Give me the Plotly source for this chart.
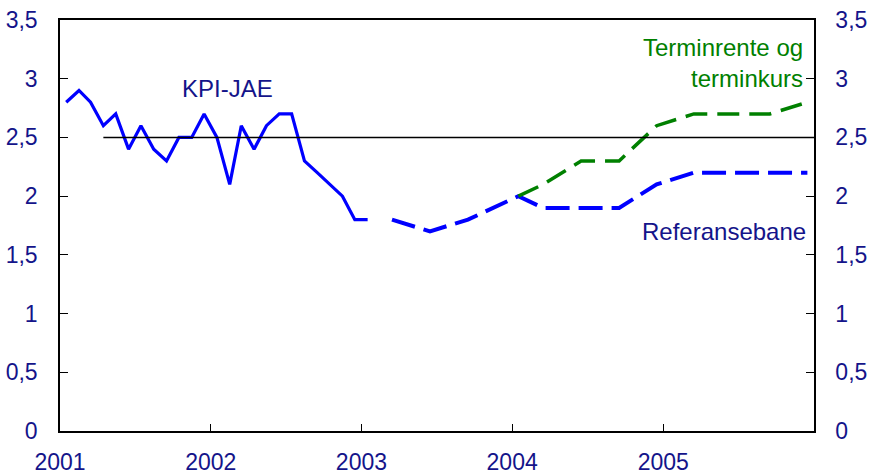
import plotly.graph_objects as go
import pandas as pd

# ---- data ----
kpi_months = [p.strftime("%Y-%m") for p in pd.period_range("2001-01", "2003-01", freq="M")]
kpi_values = [2.8, 2.9, 2.8, 2.6, 2.7, 2.4, 2.6, 2.4, 2.3, 2.5, 2.5, 2.7,
              2.5, 2.1, 2.6, 2.4, 2.6, 2.7, 2.7, 2.3, 2.2, 2.1, 2.0, 1.8,
              1.8]

ref_months = ["2003-03", "2003-06", "2003-09", "2004-01", "2004-03",
              "2004-09", "2004-12", "2005-03", "2005-12"]
ref_values = [1.8, 1.7, 1.8, 2.0, 1.9, 1.9, 2.1, 2.2, 2.2]

term_months = ["2004-01", "2004-03", "2004-06", "2004-09", "2004-12",
               "2005-03", "2005-09", "2005-12"]
term_values = [2.0, 2.1, 2.3, 2.3, 2.6, 2.7, 2.7, 2.8]

target_dates = ["2001-04-16", "2006-01-01"]
target_values = [2.5, 2.5]

year_ticks = ["2001", "2002", "2003", "2004", "2005"]
y_ticks = [0, 0.5, 1, 1.5, 2, 2.5, 3, 3.5]


def mid(months):
    return [m + "-16" for m in months]


NAVY = "#14148a"
BLUE = "#0000ff"
GREEN = "#008000"
FONT = "Liberation Sans, Arial, sans-serif"

fig = go.Figure()
fig.add_trace(go.Scatter(x=target_dates, y=target_values, mode="lines",
                         line=dict(color="#000000", width=1.6), yaxis="y2",
                         hoverinfo="skip", showlegend=False))
fig.add_trace(go.Scatter(x=mid(ref_months), y=ref_values, mode="lines",
                         line=dict(color=BLUE, width=4, dash="24px,9px"),
                         showlegend=False))
fig.add_trace(go.Scatter(x=mid(term_months), y=term_values, mode="lines",
                         line=dict(color=GREEN, width=3.5, dash="22px,10px"),
                         showlegend=False))
fig.add_trace(go.Scatter(x=mid(kpi_months), y=kpi_values, mode="lines",
                         line=dict(color=BLUE, width=3.2),
                         showlegend=False))

axis_font = dict(family=FONT, size=23, color=NAVY)

fig.update_layout(
    width=869, height=476,
    margin=dict(l=60, r=55, t=20, b=45),
    paper_bgcolor="white", plot_bgcolor="white",
    separators=", ",
    font=dict(family=FONT),
    xaxis=dict(type="date", range=["2001-01-01", "2006-01-01"],
               tickvals=[y + "-01-01" for y in year_ticks], ticktext=year_ticks,
               ticks="inside", ticklen=7, tickcolor="#000", tickwidth=1,
               showline=True, linecolor="#000", linewidth=1.5, mirror=True,
               showgrid=False, zeroline=False, tickfont=axis_font,
               ticklabelstandoff=10, automargin=False),
    yaxis=dict(range=[0, 3.5], tickvals=y_ticks, ticks="inside", ticklen=8,
               tickcolor="#000", tickwidth=1, showline=True, linecolor="#000",
               linewidth=1.5, showgrid=False, zeroline=False, tickfont=axis_font,
               ticklabelstandoff=16, tickformat=".1~f", automargin=False),
    yaxis2=dict(range=[0, 3.5], tickvals=y_ticks, overlaying="y", side="right",
                ticks="inside", ticklen=8, tickcolor="#000", tickwidth=1,
                showline=True, linecolor="#000", linewidth=1.5, showgrid=False,
                zeroline=False, tickfont=axis_font, ticklabelstandoff=15,
                tickformat=".1~f", automargin=False),
)

fig.add_annotation(x="2002-02-10", y=2.92, text="KPI-JAE", showarrow=False,
                   font=dict(family=FONT, size=24, color=NAVY),
                   xanchor="center", yanchor="middle")
fig.add_annotation(xref="paper", x=0.988, y=3.13, text="Terminrente og<br>terminkurs",
                   showarrow=False, align="right", xanchor="right", yanchor="middle",
                   font=dict(family=FONT, size=24, color=GREEN))
fig.add_annotation(xref="paper", x=0.992, y=1.70, text="Referansebane",
                   showarrow=False, xanchor="right", yanchor="middle",
                   font=dict(family=FONT, size=24, color=NAVY))

fig.write_html("out.html", config={"displayModeBar": False},
               post_script="document.body.style.margin='0';document.body.style.overflow='hidden';")
